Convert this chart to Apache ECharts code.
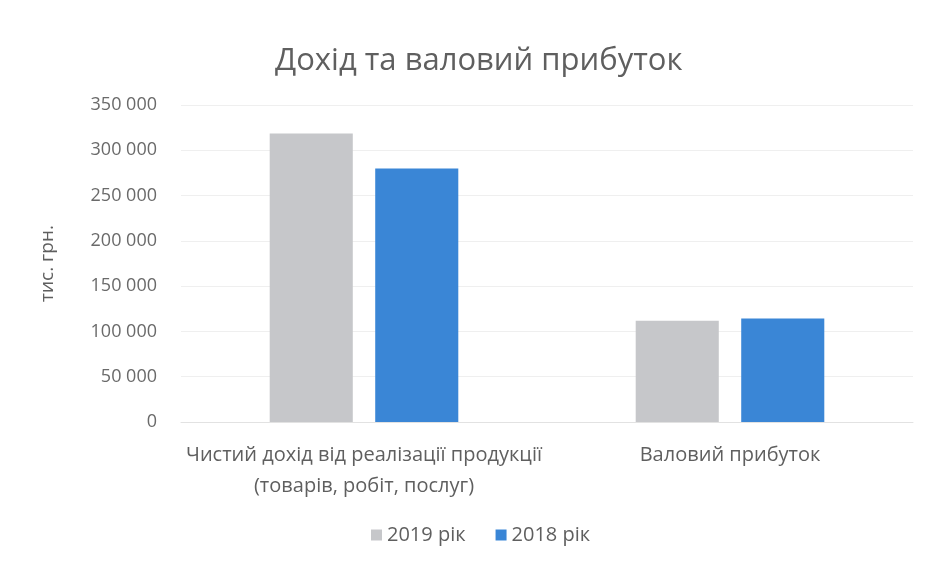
<!DOCTYPE html>
<html><head><meta charset="utf-8">
<script src="https://cdn.jsdelivr.net/npm/echarts@6/dist/echarts.min.js"></script>
<style>html,body{margin:0;padding:0;background:#fff}#c{width:929px;height:569px}</style>
</head><body><div id="c"></div>
<script>
const categories = ['Чистий дохід від реалізації продукції\n(товарів, робіт, послуг)', 'Валовий прибуток'];
const series2019 = [318500, 111800];
const series2018 = [280000, 114300];
const seriesNames = ['2019 рік', '2018 рік'];
const titleText = 'Дохід та валовий прибуток';
const yAxisName = 'тис. грн.';

const font = '"Open Sans", "Noto Sans", sans-serif';
const chart = echarts.init(document.getElementById('c'));
chart.setOption({
  backgroundColor: '#ffffff',
  animation: false,
  title: {
    text: titleText, left: 270, top: 41,
    textStyle: {fontFamily: font, fontSize: 31, fontWeight: 'normal', color: '#5f5f5f'}
  },
  legend: {
    data: seriesNames, bottom: 19, left: 366, itemWidth: 11, itemHeight: 11, itemGap: 30,
    icon: 'rect',
    textStyle: {fontFamily: font, fontSize: 20, color: '#5f5f5f'}
  },
  grid: {left: 181, right: 16, top: 105, bottom: 147},
  xAxis: {
    type: 'category', data: categories,
    axisLine: {show: true, lineStyle: {color: '#e2e2e2'}},
    axisTick: {show: false},
    axisLabel: {fontFamily: font, fontSize: 20, color: '#5f5f5f', margin: 18, lineHeight: 31, interval: 0}
  },
  yAxis: {
    type: 'value', min: 0, max: 350000, interval: 50000,
    name: yAxisName, nameLocation: 'middle', nameGap: 124, nameRotate: 90,
    nameTextStyle: {fontFamily: font, fontSize: 19, color: '#5f5f5f'},
    axisLine: {show: false}, axisTick: {show: false},
    splitLine: {lineStyle: {color: '#efefef'}},
    axisLabel: {fontFamily: font, fontSize: 18, color: '#6a6a6a', margin: 24,
      formatter: v => String(v).replace(/\B(?=(\d{3})+(?!\d))/g, ' ')}
  },
  series: [
    {name: seriesNames[0], type: 'bar', data: series2019, barWidth: '22.7%', barGap: '27%', itemStyle: {color: '#c6c7ca'}},
    {name: seriesNames[1], type: 'bar', data: series2018, barWidth: '22.7%', itemStyle: {color: '#3a86d6'}}
  ]
});
</script></body></html>
